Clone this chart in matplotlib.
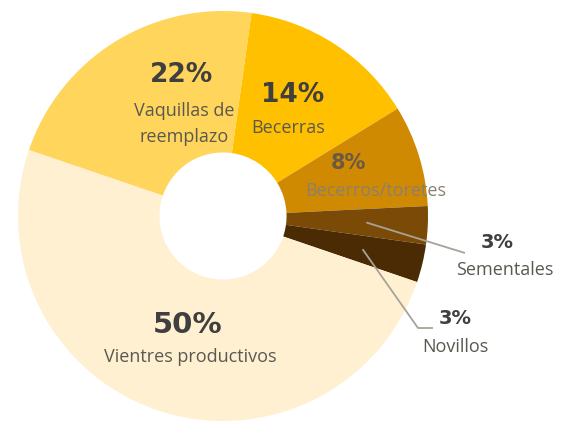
import numpy as np
import matplotlib.pyplot as plt

# slice data, clockwise from the top
categories = ["Becerras", "Becerros/toretes", "Sementales", "Novillos",
              "Vientres productivos", "Vaquillas de\nreemplazo"]
values = [14, 8, 3, 3, 50, 22]
pct_labels = ["14%", "8%", "3%", "3%", "50%", "22%"]
colors = ["#FFC000", "#CF8A02", "#7A4A06", "#4B2B04", "#FFF0D2", "#FFD55C"]

W, H = 580, 424
fig = plt.figure(figsize=(W / 100, H / 100), dpi=100)
ax = fig.add_axes([0, 0, 1, 1])

cx, cy = 223, H - 216
R = 205
hole = 0.31
start = 82

wedges, _ = ax.pie(values, colors=colors, startangle=start, counterclock=False,
                   center=(cx, cy), radius=R, frame=True,
                   wedgeprops=dict(width=R * (1 - hole), linewidth=0))
ax.set_xlim(0, W)
ax.set_ylim(0, H)
ax.set_aspect("equal")
ax.axis("off")

# mid angle of each wedge
mids = [np.deg2rad((w.theta1 + w.theta2) / 2) for w in wedges]

def img(x, y):
    return x, H - y

pct_font = dict(family="DejaVu Sans", fontweight="bold", fontsize=19, color="#3f3f3f")
lab_font = dict(family=["Open Sans", "DejaVu Sans"], fontsize=13, color="#595950")

# label positions (image pixel coordinates)
pct_pos = {
    "14%": (293, 95), "8%": (348, 163), "50%": (188, 325), "22%": (182, 75),
}
pct_size = {"14%": 19, "8%": 15, "50%": 21, "22%": 19}
lab_pos = {
    "Becerras": (288, 128), "Becerros/toretes": (376, 191),
    "Vientres productivos": (190, 357), "Vaquillas de\nreemplazo": (184, 124),
}
for cat, pct in zip(categories, pct_labels):
    if cat in lab_pos:
        c = dict(pct_font, fontsize=pct_size[pct])
        if pct == "8%":
            c["color"] = "#6a5a44"
        ax.text(*img(*pct_pos[pct]), pct, ha="center", va="center", **c)
        lc = dict(lab_font)
        if cat == "Becerros/toretes":
            lc["color"] = "#8a8070"
        ax.text(*img(*lab_pos[cat]), cat, ha="center", va="center",
                linespacing=1.6, **lc)

# outside labels with leader lines
out = {"Sementales": ((497, 243), (505, 270), [(465, 253)]),
       "Novillos": ((455, 318), (455, 347), [(418, 328), (433, 328)])}
for i, cat in enumerate(categories):
    if cat in out:
        ppos, lpos, pts = out[cat]
        r0 = R * 0.70
        x0 = cx + r0 * np.cos(mids[i])
        y0 = cy + r0 * np.sin(mids[i])
        xs = [x0] + [p[0] for p in pts]
        ys = [y0] + [H - p[1] for p in pts]
        ax.plot(xs, ys, color="#a8a39a", lw=1.3, solid_capstyle="butt")
        ax.text(*img(*ppos), pct_labels[i], ha="center", va="center",
                **dict(pct_font, fontsize=14))
        ax.text(*img(*lpos), cat, ha="center", va="center", **lab_font)

fig.savefig("out.png", dpi=100, facecolor="white")
